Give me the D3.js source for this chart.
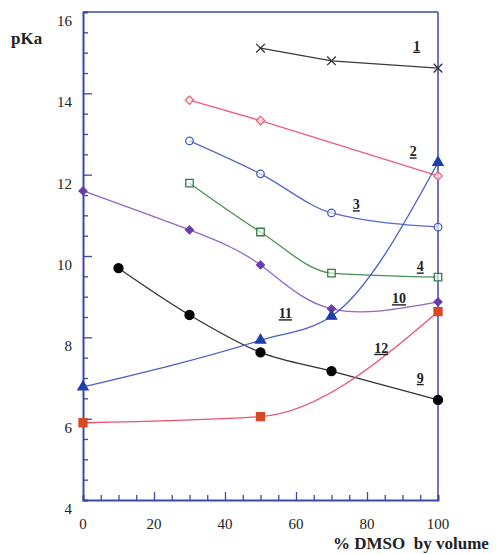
<!DOCTYPE html>
<html lang="en">
<head>
  <meta charset="UTF-8">
  <title>pKa vs % DMSO</title>
  <script src="https://d3js.org/d3.v7.min.js"></script>
  <style>
    body {
      margin: 0;
      background-color: #ffffff;
    }
    svg {
      display: block;
    }
    .tick-label {
      font-family: "Liberation Serif", "Times New Roman", Times, "DejaVu Serif", serif;
      font-size: 15px;
      fill: #222;
    }
    .axis-title {
      font-family: "Liberation Serif", "Times New Roman", Times, "DejaVu Serif", serif;
      font-size: 17px;
      font-weight: bold;
      fill: #222;
    }
    .series-label {
      font-family: "Liberation Serif", "Times New Roman", Times, "DejaVu Serif", serif;
      font-size: 14px;
      font-weight: bold;
      fill: #222;
      text-decoration: underline;
    }
  </style>
</head>
<body>
  <svg id="chart"></svg>
  <script>
    // x values: % DMSO, y values: pKa
    const xTicks = [0, 20, 40, 60, 80, 100];
    const yTicks = [4, 6, 8, 10, 12, 14, 16];

    const s1x = [50, 70, 100];
    const s1y = [15.11, 14.80, 14.62];
    const s2x = [30, 50, 100];
    const s2y = [13.83, 13.33, 11.97];
    const s3x = [30, 50, 70, 100];
    const s3y = [12.83, 12.02, 11.06, 10.71];
    const s4x = [30, 50, 70, 100];
    const s4y = [11.79, 10.59, 9.58, 9.48];
    const s9x = [10, 30, 50, 70, 100];
    const s9y = [9.70, 8.55, 7.63, 7.17, 6.46];
    const s10x = [0, 30, 50, 70, 100];
    const s10y = [11.60, 10.64, 9.78, 8.70, 8.87];
    const s11x = [0, 50, 70, 100];
    const s11y = [6.78, 7.93, 8.52, 12.30];
    const s12x = [0, 50, 100];
    const s12y = [5.90, 6.05, 8.63];

    const series = [
      { name: "1",  xs: s1x,  ys: s1y,  line: "#3a3a3a", mark: "cross",    fill: "none",    stroke: "#333",    curve: d3.curveLinear,     lx: 94,  ly: 15.05 },
      { name: "2",  xs: s2x,  ys: s2y,  line: "#ec5f78", mark: "diamond",  fill: "none",    stroke: "#ec5f78", curve: d3.curveLinear,     lx: 93,  ly: 12.45 },
      { name: "3",  xs: s3x,  ys: s3y,  line: "#5567c8", mark: "circle",   fill: "none",    stroke: "#4a5cc4", curve: d3.curveMonotoneX,  lx: 77,  ly: 11.15 },
      { name: "4",  xs: s4x,  ys: s4y,  line: "#4a8f58", mark: "square",   fill: "none",    stroke: "#2f7d40", curve: d3.curveMonotoneX,  lx: 95,  ly: 9.62 },
      { name: "9",  xs: s9x,  ys: s9y,  line: "#333",    mark: "circle",   fill: "#000",    stroke: "#000",    curve: d3.curveMonotoneX,  lx: 95,  ly: 6.88 },
      { name: "10", xs: s10x, ys: s10y, line: "#9066c8", mark: "diamond",  fill: "#6a3ea8", stroke: "#6a3ea8", curve: d3.curveNatural,    lx: 89,  ly: 8.84 },
      { name: "11", xs: s11x, ys: s11y, line: "#4a5ec6", mark: "triangle", fill: "#1f3fae", stroke: "#1f3fae", curve: d3.curveMonotoneX,  lx: 57,  ly: 8.47 },
      { name: "12", xs: s12x, ys: s12y, line: "#f0506a", mark: "square",   fill: "#d84a22", stroke: "#d84a22", curve: d3.curveMonotoneX,  lx: 84,  ly: 7.62 }
    ];

    const svgWidth = 498;
    const svgHeight = 554;
    const margin = { top: 12, right: 60, bottom: 54, left: 83 };
    const width = svgWidth - margin.left - margin.right;
    const height = svgHeight - margin.top - margin.bottom;
    const axisColor = "#3c48a8";

    const svg = d3.select("#chart")
      .attr("width", svgWidth)
      .attr("height", svgHeight);

    const g = svg.append("g")
      .attr("transform", `translate(${margin.left}, ${margin.top})`);

    const x = d3.scaleLinear().domain([0, 100]).range([0, width]);
    const y = d3.scaleLinear().domain([4, 16]).range([height, 0]);

    // frame: top and right sides
    g.append("line")
      .attr("x1", 0).attr("x2", width).attr("y1", 0).attr("y2", 0)
      .attr("stroke", axisColor).attr("stroke-width", 1.5);
    g.append("line")
      .attr("x1", width).attr("x2", width).attr("y1", 0).attr("y2", height)
      .attr("stroke", axisColor).attr("stroke-width", 1.5);

    // left axis, ticks pointing inside
    const yAxis = g.append("g")
      .call(d3.axisRight(y).tickValues(d3.range(4, 16.01, 0.5)).tickSize(5).tickFormat(""));
    yAxis.select(".domain").attr("stroke", axisColor).attr("stroke-width", 2);
    yAxis.selectAll(".tick line")
      .attr("stroke", axisColor).attr("stroke-width", 1.3)
      .attr("x2", d => d % 2 === 0 ? 9 : 5);
    yAxis.selectAll(".tick").filter(d => d === 4 || d === 16).select("line").remove();

    g.selectAll(".ylab")
      .data(yTicks)
      .enter()
      .append("text")
      .attr("class", "tick-label")
      .attr("x", -11)
      .attr("y", d => y(d) + 14)
      .attr("text-anchor", "end")
      .text(d => d);

    // bottom axis, ticks pointing up
    const xAxis = g.append("g")
      .attr("transform", `translate(0, ${height})`)
      .call(d3.axisTop(x).tickValues(d3.range(0, 101, 5)).tickSize(5).tickFormat(""));
    xAxis.select(".domain").attr("stroke", axisColor).attr("stroke-width", 2);
    xAxis.selectAll(".tick line")
      .attr("stroke", axisColor).attr("stroke-width", 1.3)
      .attr("y2", d => d % 20 === 0 ? -8 : -5);
    xAxis.selectAll(".tick").filter(d => d === 0 || d === 100).select("line").remove();

    g.selectAll(".xlab")
      .data(xTicks)
      .enter()
      .append("text")
      .attr("class", "tick-label")
      .attr("x", d => x(d))
      .attr("y", height + 29)
      .attr("text-anchor", "middle")
      .text(d => d);

    svg.append("text")
      .attr("class", "axis-title")
      .attr("x", 11)
      .attr("y", 44)
      .text("pKa");

    svg.append("text")
      .attr("class", "axis-title")
      .attr("x", 333)
      .attr("y", 549)
      .attr("xml:space", "preserve")
      .text("% DMSO  by volume");

    const symbols = {
      cross: d3.symbolX,
      diamond: d3.symbolDiamond2,
      circle: d3.symbolCircle,
      square: d3.symbolSquare,
      triangle: d3.symbolTriangle
    };

    series.forEach(s => {
      const pts = s.xs.map((v, i) => [v, s.ys[i]]);
      const line = d3.line()
        .x(d => x(d[0]))
        .y(d => y(d[1]))
        .curve(s.curve);

      g.append("path")
        .datum(pts)
        .attr("fill", "none")
        .attr("stroke", s.line)
        .attr("stroke-width", 1.3)
        .attr("d", line);

      const filled = s.fill !== "none";
      let size = 50;
      if (s.mark === "circle") size = filled ? 64 : 45;
      if (s.mark === "square") size = filled ? 64 : 56;
      if (s.mark === "diamond") size = filled ? 40 : 45;
      if (s.mark === "triangle") size = 45;
      if (s.mark === "cross") size = 50;

      g.selectAll(null)
        .data(pts)
        .enter()
        .append("path")
        .attr("transform", d => `translate(${x(d[0])}, ${y(d[1])})`)
        .attr("d", d3.symbol().type(symbols[s.mark]).size(size))
        .attr("fill", filled ? s.fill : "#fff")
        .attr("fill-opacity", filled ? 1 : 0.6)
        .attr("stroke", s.stroke)
        .attr("stroke-width", 1.3);

      g.append("text")
        .attr("class", "series-label")
        .attr("x", x(s.lx))
        .attr("y", y(s.ly))
        .attr("text-anchor", "middle")
        .text(s.name);
    });
  </script>
</body>
</html>
